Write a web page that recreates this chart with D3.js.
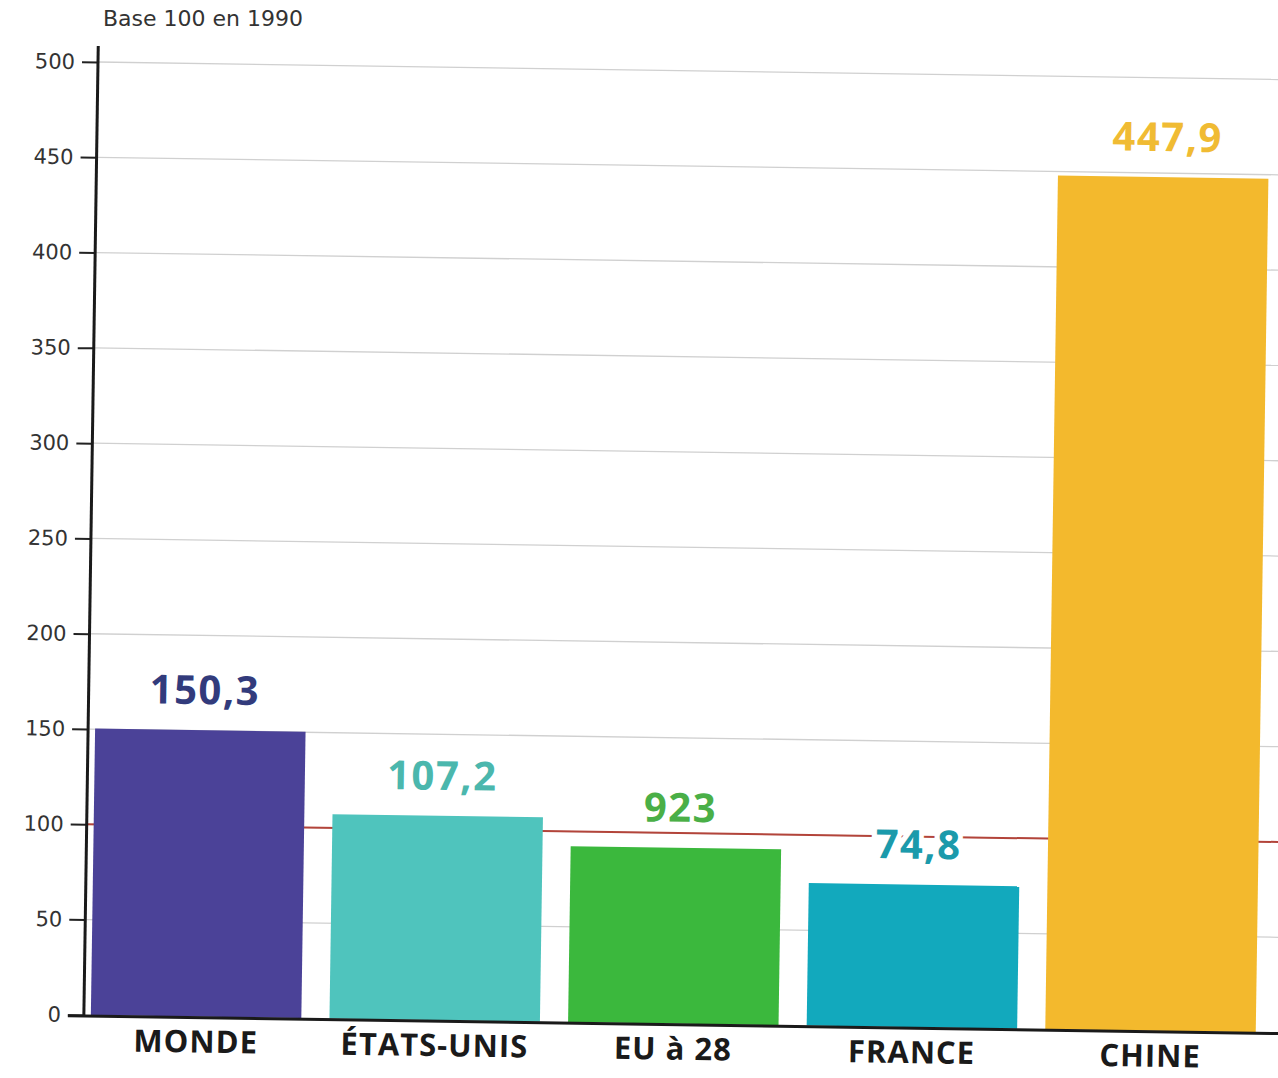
<!DOCTYPE html>
<html>
<head>
<meta charset="utf-8">
<script src="https://cdn.jsdelivr.net/npm/d3@7"></script>
<style>
  body { margin: 0; background: #fff; }
  svg { display: block; }
</style>
</head>
<body>
<svg id="chart" width="1278" height="1078"></svg>
<script>
// données (base 100 en 1990)
var categories = ["MONDE", "ÉTATS-UNIS", "EU à 28", "FRANCE", "CHINE"];
var values = [150.3, 107.2, 92.3, 74.8, 447.9];
var valueLabels = ["150,3", "107,2", "923", "74,8", "447,9"];
var yTicks = [0, 50, 100, 150, 200, 250, 300, 350, 400, 450, 500];
var barColors = ["#4b4298", "#4fc4bd", "#3bb83d", "#12a9bd", "#f3b92d"];
var labelColors = ["#323b7c", "#4bb7ad", "#4aaf47", "#1b9aab", "#f0bb33"];

var width = 1278;
var height = 1078;
var x0 = 98, y0 = 1015, yTop = 62;

var svg = d3.select("#chart");

// la page scannée est légèrement tournée
var g = svg.append("g")
    .attr("transform", "rotate(0.85," + x0 + "," + yTop + ")");

var y = d3.scaleLinear().domain([0, 500]).range([y0, yTop]);
var x = d3.scaleBand()
    .domain(categories)
    .range([105, 1270])
    .paddingInner(0.118)
    .paddingOuter(0)
    .align(0);

// grille
g.append("g")
    .selectAll("line")
    .data(yTicks.filter(function(d) { return d > 0; }))
    .enter()
    .append("line")
    .attr("x1", x0)
    .attr("x2", width + 40)
    .attr("y1", function(d) { return y(d); })
    .attr("y2", function(d) { return y(d); })
    .style("stroke", "#d0d0d0")
    .style("stroke-width", 1.3);

// ligne de référence 100
g.append("line")
    .attr("x1", x0)
    .attr("x2", width + 40)
    .attr("y1", y(100))
    .attr("y2", y(100))
    .style("stroke", "#b3443a")
    .style("stroke-width", 2);

// barres
g.append("g")
    .selectAll("rect")
    .data(values)
    .enter()
    .append("rect")
    .attr("x", function(d, i) { return x(categories[i]); })
    .attr("y", function(d) { return y(d); })
    .attr("width", x.bandwidth())
    .attr("height", function(d) { return y0 - y(d); })
    .style("fill", function(d, i) { return barColors[i]; });

// valeurs
g.append("g")
    .selectAll("text")
    .data(values)
    .enter()
    .append("text")
    .attr("x", function(d, i) { return x(categories[i]) + x.bandwidth() / 2 + 4; })
    .attr("y", function(d) { return y(d) - 26; })
    .attr("text-anchor", "middle")
    .style("font-family", "'Open Sans', sans-serif")
    .style("font-weight", "bold")
    .style("font-size", "40px")
    .style("letter-spacing", "1.5px")
    .style("paint-order", "stroke")
    .style("stroke", "#fff")
    .style("stroke-width", 10)
    .style("fill", function(d, i) { return labelColors[i]; })
    .text(function(d, i) { return valueLabels[i]; });

// axe y
var yAxis = d3.axisLeft(y)
    .tickValues(yTicks)
    .tickSize(16)
    .tickPadding(7);

var gy = g.append("g")
    .attr("transform", "translate(" + x0 + ",0)")
    .call(yAxis);
gy.select(".domain").remove();
gy.selectAll(".tick line").style("stroke", "#222").style("stroke-width", 2);
gy.selectAll(".tick text")
    .style("font-family", "'DejaVu Sans', sans-serif")
    .style("font-size", "21px")
    .style("fill", "#333");

g.append("line")
    .attr("x1", x0)
    .attr("x2", x0)
    .attr("y1", 46)
    .attr("y2", y0 + 1)
    .style("stroke", "#1a1a1a")
    .style("stroke-width", 3);

// axe x
g.append("line")
    .attr("x1", x0 - 16)
    .attr("x2", width + 40)
    .attr("y1", y0 + 1)
    .attr("y2", y0 + 1)
    .style("stroke", "#1a1a1a")
    .style("stroke-width", 3);

g.append("g")
    .selectAll("text")
    .data(categories)
    .enter()
    .append("text")
    .attr("x", function(d) { return x(d) + x.bandwidth() / 2; })
    .attr("y", 1051)
    .attr("text-anchor", "middle")
    .style("font-family", "'Open Sans', sans-serif")
    .style("font-weight", "bold")
    .style("font-size", "31px")
    .style("letter-spacing", "1px")
    .style("fill", "#1a1a1a")
    .text(function(d) { return d; });

// titre
svg.append("text")
    .attr("x", 103)
    .attr("y", 26)
    .style("font-family", "'DejaVu Sans', sans-serif")
    .style("font-size", "22px")
    .style("fill", "#333")
    .text("Base 100 en 1990");
</script>
</body>
</html>
